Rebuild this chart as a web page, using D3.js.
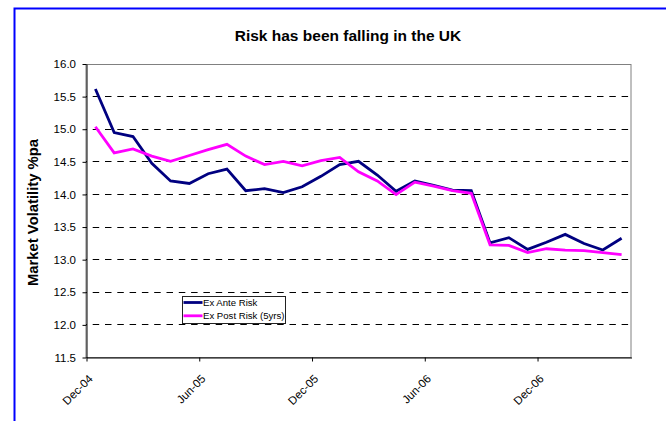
<!DOCTYPE html>
<html>
<head>
<meta charset="utf-8">
<script src="https://cdn.jsdelivr.net/npm/d3@7"></script>
<style>
  body { margin: 0; background: #fff; }
  svg { display: block; font-family: Arial, "Liberation Sans", sans-serif; }
</style>
</head>
<body>
<div id="chart"></div>
<script>
// months shown on the chart (one point per month)
const months = ["Dec-04", "Jan-05", "Feb-05", "Mar-05", "Apr-05", "May-05", "Jun-05", "Jul-05",
  "Aug-05", "Sep-05", "Oct-05", "Nov-05", "Dec-05", "Jan-06", "Feb-06", "Mar-06", "Apr-06",
  "May-06", "Jun-06", "Jul-06", "Aug-06", "Sep-06", "Oct-06", "Nov-06", "Dec-06", "Jan-07",
  "Feb-07", "Mar-07", "Apr-07"];

const exAnte = [15.61, 14.94, 14.88, 14.47, 14.20, 14.16, 14.31, 14.38, 14.05, 14.08, 14.02,
  14.11, 14.27, 14.45, 14.50, 14.29, 14.04, 14.20, 14.13, 14.06, 14.05, 13.25, 13.33, 13.15,
  13.26, 13.38, 13.24, 13.14, 13.32];

const exPost = [15.03, 14.63, 14.69, 14.58, 14.50, 14.59, 14.68, 14.76, 14.58, 14.45, 14.50,
  14.43, 14.51, 14.56, 14.34, 14.20, 13.99, 14.18, 14.12, 14.05, 14.01, 13.22, 13.21, 13.10,
  13.16, 13.14, 13.13, 13.10, 13.07];

const xTickLabels = ["Dec-04", "Jun-05", "Dec-05", "Jun-06", "Dec-06"];
const yTicks = [11.5, 12.0, 12.5, 13.0, 13.5, 14.0, 14.5, 15.0, 15.5, 16.0];
const seriesNames = ["Ex Ante Risk", "Ex Post Risk (5yrs)"];

const width = 666, height = 421;
const plot = { left: 86, right: 631, top: 63.5, bottom: 357 };
const colors = ["#000080", "#ff00ff"];

const svg = d3.select("#chart").append("svg")
    .attr("width", width)
    .attr("height", height);

svg.append("rect").attr("width", width).attr("height", height).attr("fill", "#fff");

// outer chart frame (runs off the right and bottom edges)
svg.append("rect")
    .attr("x", 14.5).attr("y", 8.5)
    .attr("width", 700).attr("height", 450)
    .attr("fill", "none")
    .attr("stroke", "#0000ff")
    .attr("stroke-width", 2);

svg.append("text")
    .attr("x", 348).attr("y", 41)
    .attr("text-anchor", "middle")
    .style("font-size", "15.5px")
    .style("font-weight", "bold")
    .text("Risk has been falling in the UK");

// scales: each month gets an equal slot, points sit in the middle of the slot
const x = d3.scaleLinear().domain([0, months.length]).range([plot.left, plot.right]);
const y = d3.scaleLinear().domain([11.5, 16.0]).range([plot.bottom, plot.top]);

// plot border (grey top / right)
svg.append("rect")
    .attr("x", plot.left).attr("y", Math.round(plot.top) + 0.5)
    .attr("width", plot.right - plot.left).attr("height", plot.bottom - Math.round(plot.top))
    .attr("fill", "none")
    .attr("stroke", "#808080");

// dashed gridlines
svg.append("g")
    .selectAll("line")
    .data(yTicks.filter(d => d > 11.5 && d < 16.0))
    .enter().append("line")
    .attr("x1", plot.left).attr("x2", plot.right)
    .attr("y1", d => Math.round(y(d)) + 0.5).attr("y2", d => Math.round(y(d)) + 0.5)
    .attr("stroke", "#000")
    .attr("stroke-dasharray", "6.5,5.8")
    .attr("stroke-dashoffset", 5.6);

// y axis
const yAxis = svg.append("g")
    .attr("transform", `translate(${plot.left + 0.5},0.5)`)
    .call(d3.axisLeft(y).tickValues(yTicks).tickFormat(d3.format(".1f"))
        .tickSize(4).tickSizeOuter(0).tickPadding(6.5));
yAxis.selectAll("text").style("font-size", "11.5px").attr("fill", "#000");
yAxis.select(".domain").attr("stroke", "#000");

// x axis
const xAxis = svg.append("g")
    .attr("transform", `translate(0.5,${plot.bottom + 0.5})`)
    .call(d3.axisBottom(x)
        .tickValues(xTickLabels.map(l => months.indexOf(l)))
        .tickFormat(i => months[i])
        .tickSize(4).tickSizeOuter(0));
xAxis.selectAll("text")
    .style("font-size", "11.5px")
    .style("text-anchor", "end")
    .attr("fill", "#000")
    .attr("x", 0).attr("y", 0).attr("dy", 0)
    .attr("transform", "translate(6.5,22) rotate(-45)");

svg.append("text")
    .attr("transform", `translate(37.5,${212.5}) rotate(-90)`)
    .attr("text-anchor", "middle")
    .style("font-size", "14.8px")
    .style("font-weight", "bold")
    .text("Market Volatility %pa");

// lines
const line = d3.line()
    .x((d, i) => x(i + 0.5))
    .y(d => y(d));

[exAnte, exPost].forEach((values, k) => {
    svg.append("path")
        .datum(values)
        .attr("fill", "none")
        .attr("stroke", colors[k])
        .attr("stroke-width", 2.8)
        .attr("stroke-linejoin", "miter")
        .attr("d", line);
});

// legend
const legend = svg.append("g").attr("transform", "translate(182.5,296.5)");
legend.append("rect")
    .attr("width", 103).attr("height", 27)
    .attr("fill", "#fff")
    .attr("stroke", "#222");
seriesNames.forEach((name, k) => {
    const ly = 6 + k * 13.3;
    legend.append("line")
        .attr("x1", 1).attr("x2", 20)
        .attr("y1", ly).attr("y2", ly)
        .attr("stroke", colors[k])
        .attr("stroke-width", 2.8);
    legend.append("text")
        .attr("x", 20.5).attr("y", ly)
        .attr("dy", "0.35em")
        .style("font-size", "9.6px")
        .text(name);
});
</script>
</body>
</html>
